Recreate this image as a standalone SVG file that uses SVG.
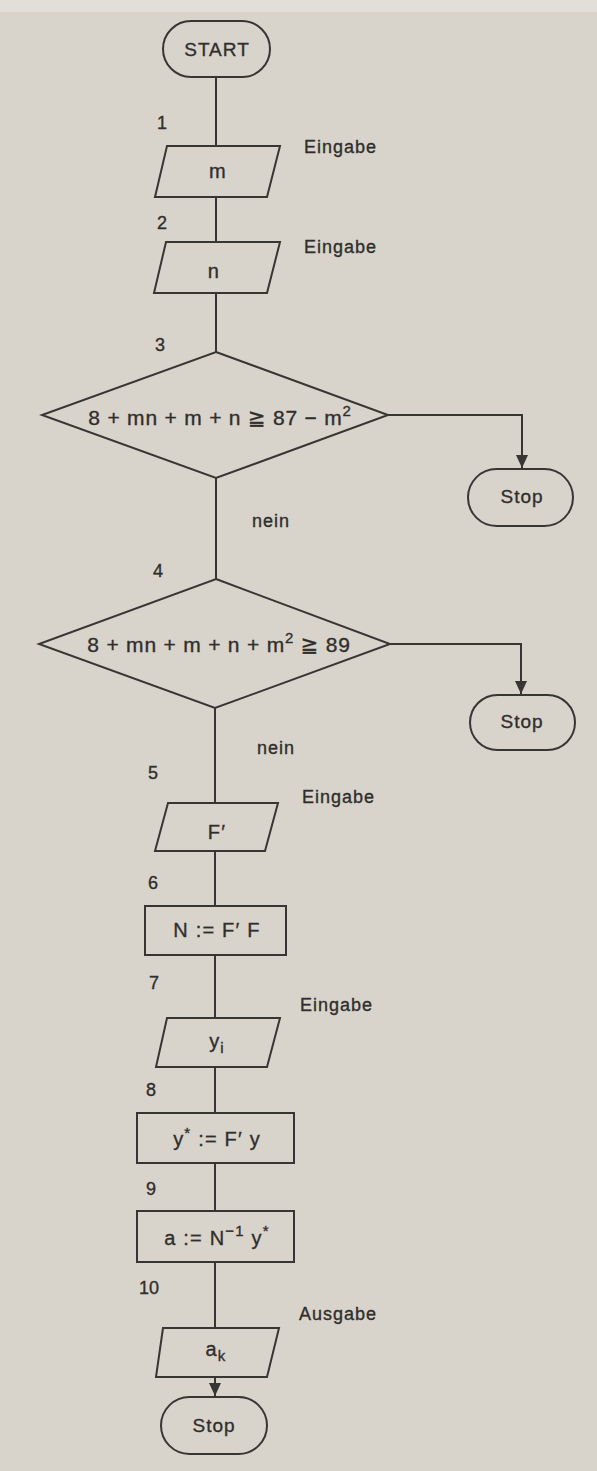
<svg xmlns="http://www.w3.org/2000/svg" width="597" height="1471" viewBox="0 0 597 1471">
<defs>
<style>
.shape{fill:none;stroke:#383634;stroke-width:2;stroke-linejoin:miter}
.edge{fill:none;stroke:#383634;stroke-width:2}
text{font-family:"Liberation Sans","DejaVu Sans",sans-serif;fill:#302e2c;stroke:#302e2c;stroke-width:0.35}
.lbl{font-size:18px;letter-spacing:1px}
.num{font-size:18px}
.inner{font-size:20px;letter-spacing:1.2px;text-anchor:middle}
.cond{font-size:21px;letter-spacing:0.8px;text-anchor:middle}
.term{font-size:19px;letter-spacing:1px;text-anchor:middle}
.sup{font-size:15px}
</style>
<marker id="arr" markerUnits="userSpaceOnUse" markerWidth="14" markerHeight="12" refX="13" refY="6" orient="auto">
<path d="M0,0 L13,6 L0,12 z" fill="#383634"/>
</marker>
</defs>
<rect x="0" y="0" width="597" height="1471" fill="#d8d4cb"/>
<rect x="0" y="0" width="597" height="12" fill="#e2dfd8"/>

<g id="connectors">
<line class="edge" x1="216" y1="77" x2="216" y2="146"/>
<line class="edge" x1="216" y1="197" x2="216" y2="242"/>
<line class="edge" x1="216" y1="293" x2="216" y2="352"/>
<polyline class="edge" points="388,415 522,415 522,468" marker-end="url(#arr)"/>
<line class="edge" x1="216" y1="478" x2="216" y2="579"/>
<polyline class="edge" points="390,644 521,644 521,694" marker-end="url(#arr)"/>
<line class="edge" x1="215" y1="708" x2="215" y2="803"/>
<line class="edge" x1="215" y1="851" x2="215" y2="906"/>
<line class="edge" x1="215" y1="955" x2="215" y2="1018"/>
<line class="edge" x1="215" y1="1067" x2="215" y2="1113"/>
<line class="edge" x1="215" y1="1163" x2="215" y2="1211"/>
<line class="edge" x1="215" y1="1262" x2="215" y2="1328"/>
<line class="edge" x1="215" y1="1377" x2="215" y2="1396" marker-end="url(#arr)"/>
</g>

<g id="start">
<rect class="shape" x="163" y="21" width="107" height="56" rx="28" ry="28"/>
<text class="term" x="217" y="56">START</text>
</g>

<g id="step1">
<text class="num" x="157" y="129">1</text>
<polygon class="shape" points="167,146 280,146 267,197 155,197"/>
<text class="inner" x="218" y="178">m</text>
<text class="lbl" x="304" y="153">Eingabe</text>
</g>

<g id="step2">
<text class="num" x="157" y="229">2</text>
<polygon class="shape" points="166,242 280,242 267,293 154,293"/>
<text class="inner" x="214" y="278">n</text>
<text class="lbl" x="304" y="253">Eingabe</text>
</g>

<g id="step3">
<text class="num" x="155" y="351">3</text>
<polygon class="shape" points="216,352 388,415 216,478 42,415"/>
<text class="cond" x="220" y="425">8 + mn + m + n ≧ 87 − m<tspan class="sup" dy="-9">2</tspan></text>
</g>

<g id="stop1">
<rect class="shape" x="468" y="469" width="105" height="57" rx="28.5" ry="28.5"/>
<text class="term" x="522" y="503">Stop</text>
</g>

<text class="lbl" x="252" y="527">nein</text>

<g id="step4">
<text class="num" x="153" y="577">4</text>
<polygon class="shape" points="216,579 390,644 215,708 39,644"/>
<text class="cond" x="219" y="652">8 + mn + m + n + m<tspan class="sup" dy="-9">2</tspan><tspan dy="9"> ≧ 89</tspan></text>
</g>

<g id="stop2">
<rect class="shape" x="470" y="695" width="105" height="55" rx="27.5" ry="27.5"/>
<text class="term" x="522" y="728">Stop</text>
</g>

<text class="lbl" x="257" y="754">nein</text>

<g id="step5">
<text class="num" x="148" y="779">5</text>
<polygon class="shape" points="168,803 278,803 265,851 155,851"/>
<text class="inner" x="217" y="839">F′</text>
<text class="lbl" x="302" y="803">Eingabe</text>
</g>

<g id="step6">
<text class="num" x="148" y="889">6</text>
<rect class="shape" x="145" y="906" width="141" height="49"/>
<text class="inner" x="217" y="937">N := F′ F</text>
</g>

<g id="step7">
<text class="num" x="149" y="989">7</text>
<polygon class="shape" points="167,1018 280,1018 267,1067 156,1067"/>
<text class="inner" x="217" y="1048">y<tspan class="sup" dy="5">i</tspan></text>
<text class="lbl" x="300" y="1011">Eingabe</text>
</g>

<g id="step8">
<text class="num" x="146" y="1096">8</text>
<rect class="shape" x="137" y="1113" width="157" height="50"/>
<text class="inner" x="217" y="1146">y<tspan class="sup" dy="-8">*</tspan><tspan dy="8">  := F′ y</tspan></text>
</g>

<g id="step9">
<text class="num" x="146" y="1195">9</text>
<rect class="shape" x="137" y="1211" width="157" height="51"/>
<text class="inner" x="217" y="1245">a := N<tspan class="sup" dy="-9">−1</tspan><tspan dy="9">  y</tspan><tspan class="sup" dy="-9">*</tspan></text>
</g>

<g id="step10">
<text class="num" x="139" y="1294">10</text>
<polygon class="shape" points="163,1328 279,1328 267,1377 156,1377"/>
<text class="inner" x="216" y="1356">a<tspan class="sup" dy="5">k</tspan></text>
<text class="lbl" x="299" y="1320">Ausgabe</text>
</g>

<g id="stop3">
<rect class="shape" x="161" y="1397" width="106" height="57" rx="28.5" ry="28.5"/>
<text class="term" x="214" y="1432">Stop</text>
</g>
</svg>
